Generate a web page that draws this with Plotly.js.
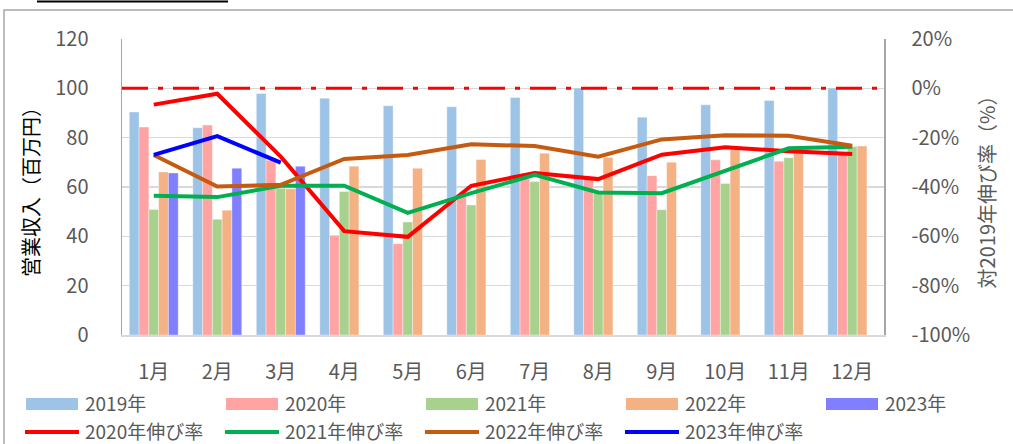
<!DOCTYPE html>
<html>
<head>
<meta charset="utf-8">
<script src="https://cdn.plot.ly/plotly-3.0.1.min.js"></script>
<style>
  html, body { margin: 0; padding: 0; background: #ffffff; }
  #chart { width: 1013px; height: 444px; }
</style>
</head>
<body>
<div id="chart"></div>
<script>
// ---- data ----
const months = ['1月','2月','3月','4月','5月','6月','7月','8月','9月','10月','11月','12月'];
const rev2019 = [90.4, 84.0, 97.9, 96.0, 92.9, 92.5, 96.3, 100.1, 88.3, 93.3, 95.1, 100.1];
const rev2020 = [84.3, 85.1, 70.8, 40.4, 37.0, 56.0, 63.3, 63.2, 64.6, 71.0, 70.4, 73.5];
const rev2021 = [50.9, 46.9, 59.5, 58.2, 45.8, 52.7, 62.2, 57.6, 50.8, 61.4, 71.9, 76.4];
const rev2022 = [66.1, 50.6, 59.3, 68.4, 67.6, 71.1, 73.7, 72.0, 70.0, 75.8, 75.5, 76.6];
const rev2023 = [65.7, 67.6, 68.4, null, null, null, null, null, null, null, null, null];
const growth2020 = [-0.066, -0.022, -0.277, -0.579, -0.602, -0.395, -0.343, -0.368, -0.269, -0.239, -0.255, -0.266];
const growth2021 = [-0.435, -0.441, -0.395, -0.395, -0.505, -0.425, -0.351, -0.422, -0.425, -0.333, -0.243, -0.237];
const growth2022 = [-0.270, -0.398, -0.391, -0.286, -0.270, -0.227, -0.234, -0.277, -0.207, -0.190, -0.192, -0.233];
const growth2023 = [-0.270, -0.194, -0.301];
const barNames = ['2019年','2020年','2021年','2022年','2023年'];
const lineNames = ['2020年伸び率','2021年伸び率','2022年伸び率','2023年伸び率'];
const revTickVals = [0, 20, 40, 60, 80, 100, 120];
const rateTickVals = [-1.0, -0.8, -0.6, -0.4, -0.2, 0, 0.2];
const rateTickText = ['-100%','-80%','-60%','-40%','-20%','0%','20%'];
const leftTitle = '営業収入（百万円）';
const rightTitle = '対2019年伸び率（%）';
const baseline = 0;

// ---- styling ----
const barColors = ['#9dc3e6', '#ffa3a3', '#a9d18e', '#f4b183', '#7f7fff'];
const lineColors = ['#ff0000', '#00b050', '#c55a11', '#0000ff'];
const FONT = '"Noto Sans CJK JP", "Noto Sans", sans-serif';
const TXT = '#595959';

const W = 1013, H = 444;
const PL = 122, PR = 884, PT = 39, PB = 335;
const px = x => (x - PL) / (PR - PL);
const py = y => (PB - y) / (PB - PT);

const barSeries = [rev2019, rev2020, rev2021, rev2022, rev2023];
const lineSeries = [growth2020, growth2021, growth2022, growth2023];

const traces = [];
barSeries.forEach((s, i) => {
  traces.push({
    type: 'bar', x: months, y: s, name: barNames[i],
    marker: { color: barColors[i], line: { color: 'rgba(255,255,255,0.6)', width: 0.6 } },
    showlegend: false, hoverinfo: 'x+y'
  });
});
lineSeries.forEach((s, i) => {
  traces.push({
    type: 'scatter', mode: 'lines', x: months.slice(0, s.length), y: s, yaxis: 'y2',
    name: lineNames[i], line: { color: lineColors[i], width: 4 },
    showlegend: false
  });
});

const shapes = [
  // zero-growth reference line
  { type: 'line', xref: 'paper', yref: 'y2', x0: 0, x1: 1, y0: baseline, y1: baseline,
    line: { color: '#ff0000', width: 3, dash: '26px,10px,5px,10px' }, layer: 'above' },
  // outer chart frame
  { type: 'rect', xref: 'paper', yref: 'paper', x0: px(4), x1: px(1030), y0: py(10), y1: py(460),
    line: { color: '#a6a6a6', width: 1.5 }, fillcolor: 'rgba(0,0,0,0)', layer: 'below' },
  // cropped title underline at very top
  { type: 'line', xref: 'paper', yref: 'paper', x0: px(37), x1: px(228), y0: py(1.5), y1: py(1.5),
    line: { color: '#000000', width: 2 } }
];
const annotations = [];
const LEG = 19;

// custom legend, row 1 (bars)
barNames.forEach((n, i) => {
  const x0 = 26 + 200 * i;
  shapes.push({ type: 'rect', xref: 'paper', yref: 'paper', x0: px(x0), x1: px(x0 + 52),
    y0: py(410), y1: py(398), line: { width: 0 }, fillcolor: barColors[i] });
  annotations.push({ xref: 'paper', yref: 'paper', x: px(x0 + 57), y: py(402), text: n,
    showarrow: false, xanchor: 'left', yanchor: 'middle',
    font: { family: FONT, size: LEG, color: TXT } });
});
// custom legend, row 2 (lines)
lineNames.forEach((n, i) => {
  const x0 = 25 + 200 * i;
  shapes.push({ type: 'line', xref: 'paper', yref: 'paper', x0: px(x0), x1: px(x0 + 54),
    y0: py(432), y1: py(432), line: { color: lineColors[i], width: 4 } });
  annotations.push({ xref: 'paper', yref: 'paper', x: px(x0 + 58), y: py(430.3), text: n,
    showarrow: false, xanchor: 'left', yanchor: 'middle',
    font: { family: FONT, size: LEG, color: TXT } });
});

const layout = {
  width: W, height: H,
  margin: { l: PL, r: W - PR, t: PT, b: H - PB, pad: 0 },
  paper_bgcolor: '#ffffff', plot_bgcolor: '#ffffff',
  font: { family: FONT, size: 20, color: TXT },
  barmode: 'group', bargap: 0.23, bargroupgap: 0,
  showlegend: false,
  xaxis: {
    type: 'category', showgrid: false, showline: true, linecolor: '#d9d9d9', linewidth: 1.5,
    ticks: '', ticklabelstandoff: 18, tickfont: { family: FONT, size: 20, color: TXT },
    zeroline: false, fixedrange: true
  },
  yaxis: {
    range: [0, 120], tickvals: revTickVals, showgrid: true, gridcolor: '#d9d9d9', gridwidth: 1.5,
    showline: true, linecolor: '#a6a6a6', linewidth: 1.5, zeroline: false,
    ticks: '', ticklabelstandoff: 28, tickfont: { family: FONT, size: 20, color: TXT },
    title: { text: leftTitle, standoff: 10, font: { family: FONT, size: 20, color: '#000000' } },
    fixedrange: true
  },
  yaxis2: {
    overlaying: 'y', side: 'right', range: [-1.0, 0.2],
    tickvals: rateTickVals, ticktext: rateTickText, showgrid: false,
    showline: true, linecolor: '#a6a6a6', linewidth: 1.5, zeroline: false,
    ticks: '', ticklabelstandoff: 22, tickfont: { family: FONT, size: 20, color: TXT },
    title: { text: rightTitle, standoff: 12, font: { family: FONT, size: 20, color: TXT } },
    fixedrange: true
  },
  shapes: shapes,
  annotations: annotations
};

Plotly.newPlot('chart', traces, layout, { displayModeBar: false, staticPlot: true });
</script>
</body>
</html>
